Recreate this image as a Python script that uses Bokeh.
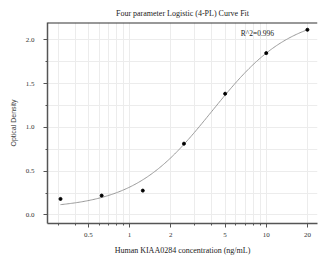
import numpy as np
from bokeh.plotting import figure
from bokeh.models import FixedTicker, Range1d, Span, Label, Title
from bokeh.embed import file_html
from bokeh.resources import INLINE

# measured standards
conc = [0.3125, 0.625, 1.25, 2.5, 5, 10, 20]
od = [0.183, 0.221, 0.278, 0.815, 1.386, 1.85, 2.117]

# fitted 4-PL parameters (bottom, slope, EC50, top)
fit_A = 0.07
fit_B = 1.5
fit_C = 4.0
fit_D = 2.3
r2_text = "R^2=0.996"

x_major = [0.5, 1, 2, 5, 10, 20]
x_minor = [0.3, 0.4, 0.6, 0.7, 0.8, 0.9, 3, 4, 6, 7, 8, 9]
y_major = [0.0, 0.5, 1.0, 1.5, 2.0]
y_minor = [0.25, 0.75, 1.25, 1.75]

title_text = "Four parameter Logistic (4-PL) Curve Fit"
x_label = "Human KIAA0284 concentration (ng/mL)"
y_label = "Optical Density"

SERIF = "Liberation Serif"
SANS = "Liberation Sans"

p = figure(width=318, height=262, x_axis_type="log",
           x_range=Range1d(0.251, 23.7), y_range=Range1d(-0.098, 2.2),
           output_backend="svg", toolbar_location=None,
           min_border_left=47, min_border_right=1, min_border_top=22, min_border_bottom=39)
p.title = Title(text=title_text, align="center", text_font=SERIF,
                text_font_size="8px", text_font_style="normal", text_color="#222222",
                standoff=9)
p.outline_line_color = None
p.background_fill_color = "white"
p.border_fill_color = "white"

xc = np.logspace(np.log10(conc[0]), np.log10(conc[-1]), 200)
yc = fit_D + (fit_A - fit_D) / (1 + (xc / fit_C) ** fit_B)
p.line(xc, yc, line_color="#9a9a9a", line_width=1)
p.scatter(conc, od, size=3, color="black")

p.add_layout(Label(x=6.5, y=2.074, text=r2_text, text_font=SERIF,
                   text_font_size="7.5px", text_color="#222222",
                   text_baseline="middle"))

p.add_layout(Span(location=2.2, dimension="width", line_color="#333333", line_width=2))

# ticks
p.xaxis.ticker = FixedTicker(ticks=x_major, minor_ticks=x_minor)
p.xaxis.major_label_overrides = {0.5: "0.5", 1: "1", 2: "2", 5: "5", 10: "10", 20: "20"}
p.yaxis.ticker = FixedTicker(ticks=y_major, minor_ticks=y_minor)
p.yaxis.major_label_overrides = {0.0: "0.0", 0.5: "0.5", 1.0: "1.0", 1.5: "1.5", 2.0: "2.0"}

p.xgrid.ticker = FixedTicker(ticks=sorted(x_major + x_minor))
p.ygrid.ticker = FixedTicker(ticks=sorted(y_major + y_minor))
for g in (p.xgrid, p.ygrid):
    g.grid_line_color = "#ececec"
    g.grid_line_width = 1

for ax in (p.xaxis, p.yaxis):
    ax.axis_line_color = "#555555"
    ax.axis_line_width = 1.5
    ax.major_tick_line_color = "#555555"
    ax.minor_tick_line_color = "#555555"
    ax.major_tick_in = 0
    ax.major_tick_out = 4
    ax.minor_tick_in = 0
    ax.minor_tick_out = 2
    ax.major_label_text_font = SERIF
    ax.major_label_text_font_size = "7px"
    ax.major_label_text_color = "#333333"
    ax.axis_label_text_font_style = "normal"

p.xaxis.axis_label = x_label
p.xaxis.axis_label_text_font = SERIF
p.xaxis.axis_label_text_font_size = "8px"
p.xaxis.axis_label_text_color = "#222222"
p.xaxis.major_label_standoff = 5
p.xaxis.axis_label_standoff = 6

p.yaxis.axis_label = y_label
p.yaxis.axis_label_text_font = SANS
p.yaxis.axis_label_text_font_size = "7px"
p.yaxis.axis_label_text_color = "#444444"
p.yaxis.major_label_standoff = 9
p.yaxis.axis_label_standoff = 6

open("out.html", "w").write(file_html(p, INLINE))
